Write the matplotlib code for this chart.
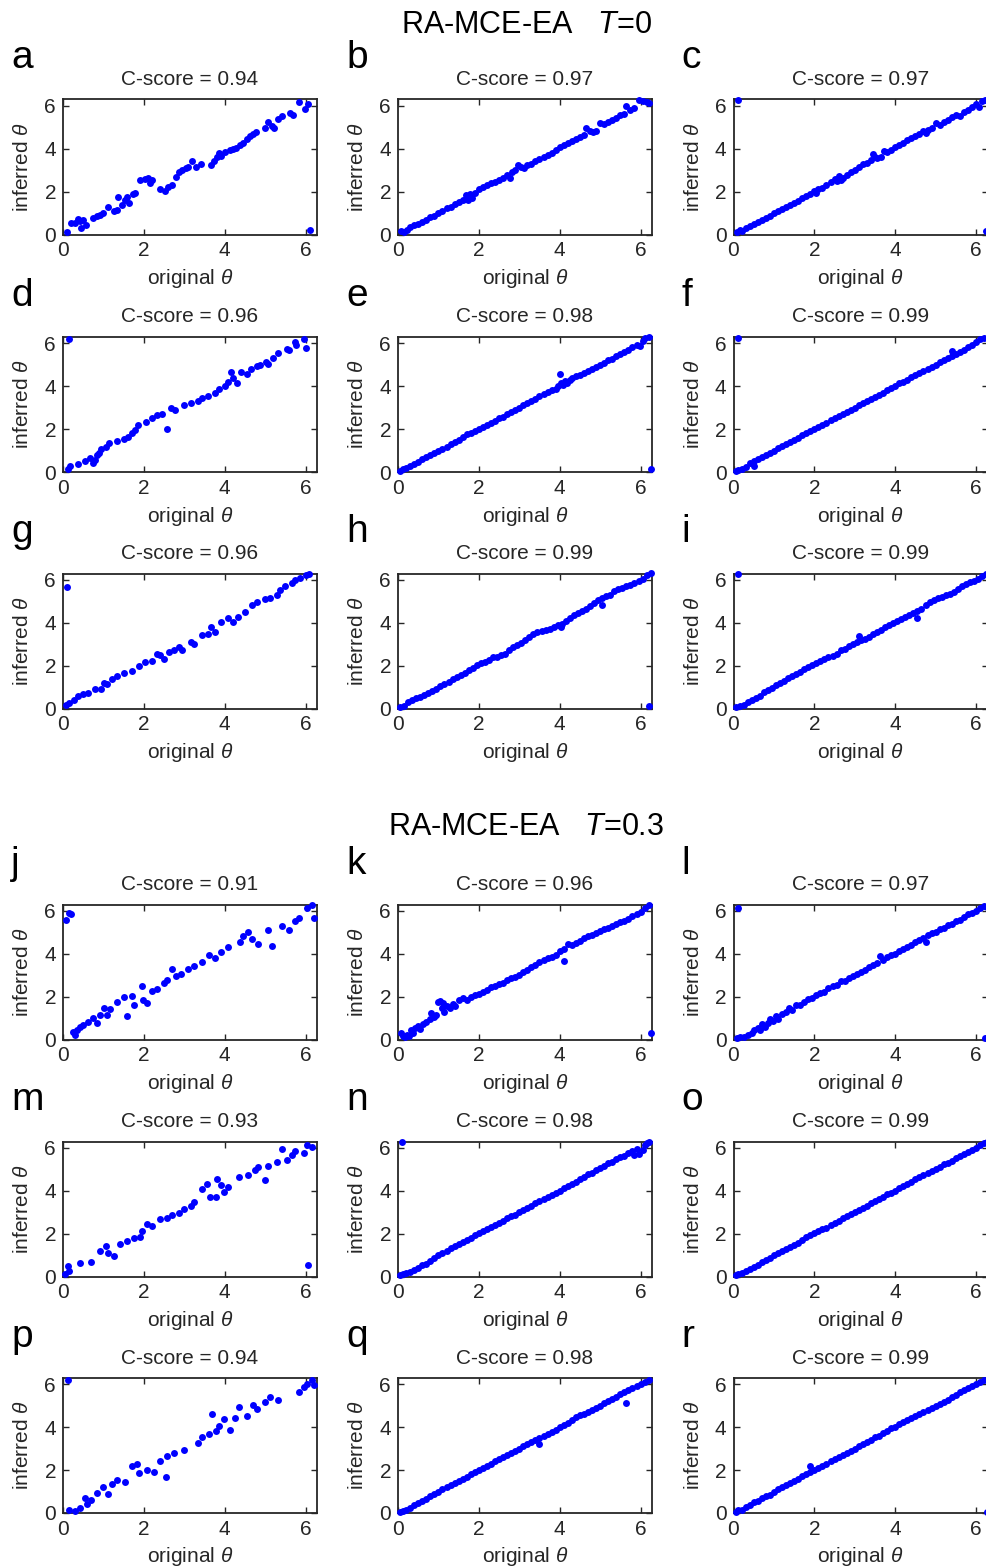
import numpy as np
import matplotlib
matplotlib.use("Agg")
import matplotlib.pyplot as plt

plt.rcParams['font.family'] = ['Liberation Sans', 'DejaVu Sans']
plt.rcParams['mathtext.fontset'] = 'custom'
plt.rcParams['mathtext.rm'] = 'Liberation Sans'
plt.rcParams['mathtext.it'] = 'Liberation Sans:italic'

# ---- data: (original theta, inferred theta) ----
pts_a = [(0.1, 0.11), (0.2, 0.53), (0.29, 0.53), (0.37, 0.74), (0.41, 0.63), (0.45, 0.31), (0.5, 0.66),
         (0.58, 0.42), (0.73, 0.79), (0.83, 0.85), (0.91, 0.93), (1.0, 1.0), (1.12, 1.26), (1.25, 1.1),
         (1.33, 1.13), (1.37, 1.76), (1.45, 1.37), (1.54, 1.6), (1.58, 1.73), (1.64, 1.48), (1.73, 1.87),
         (1.79, 1.95), (1.91, 2.52), (2.04, 2.58), (2.1, 2.63), (2.16, 2.42), (2.2, 2.52), (2.41, 2.1),
         (2.52, 2.03), (2.6, 2.19), (2.7, 2.31), (2.79, 2.67), (2.87, 2.92), (2.95, 3.02), (3.04, 3.08),
         (3.1, 3.14), (3.2, 3.4), (3.29, 3.14), (3.41, 3.3), (3.65, 3.25), (3.74, 3.44), (3.8, 3.6),
         (3.85, 3.77), (3.91, 3.65), (4.0, 3.84), (4.12, 3.93), (4.2, 3.96), (4.29, 4.04), (4.37, 4.15),
         (4.45, 4.28), (4.54, 4.43), (4.62, 4.59), (4.7, 4.67), (4.78, 4.78), (4.99, 4.94), (5.08, 5.22),
         (5.16, 5.06), (5.23, 4.94), (5.33, 5.38), (5.41, 5.53), (5.62, 5.66), (5.7, 5.57), (5.83, 6.19),
         (5.99, 5.82), (6.06, 6.08), (6.1, 0.22)]

pts_b = [(0.08, 0.15), (0.15, 0.1), (0.22, 0.22), (0.3, 0.35), (0.4, 0.42), (0.5, 0.5), (0.6, 0.6),
         (0.7, 0.68), (0.8, 0.8), (0.9, 0.88), (1.0, 1.02), (1.1, 1.1), (1.2, 1.22), (1.3, 1.3), (1.4, 1.42),
         (1.5, 1.5), (1.6, 1.6), (1.68, 1.82), (1.72, 1.62), (1.78, 1.9), (1.82, 1.7), (1.9, 1.95),
         (2.0, 2.1), (2.1, 2.22), (2.2, 2.3), (2.3, 2.38), (2.4, 2.45), (2.5, 2.55), (2.6, 2.65),
         (2.7, 2.78), (2.78, 2.62), (2.82, 2.9), (2.9, 3.0), (2.98, 3.22), (3.05, 3.15), (3.12, 3.08),
         (3.2, 3.22), (3.3, 3.3), (3.4, 3.4), (3.5, 3.5), (3.6, 3.6), (3.7, 3.68), (3.8, 3.8), (3.9, 3.92),
         (4.0, 4.08), (4.1, 4.18), (4.2, 4.25), (4.3, 4.35), (4.4, 4.45), (4.5, 4.55), (4.6, 4.65),
         (4.66, 4.98), (4.75, 4.82), (4.82, 4.75), (4.9, 4.8), (5.0, 5.2), (5.1, 5.15), (5.2, 5.25),
         (5.3, 5.32), (5.4, 5.42), (5.5, 5.55), (5.58, 5.62), (5.65, 6.0), (5.75, 5.78), (5.85, 5.88),
         (5.95, 6.25), (6.05, 6.22), (6.15, 6.15), (6.22, 6.1)]

pts_c = [(0.1, 6.25), (6.25, 0.15), (0.08, 0.1), (0.15, 0.2), (0.2, 0.15), (0.3, 0.28), (0.4, 0.38),
         (0.5, 0.48), (0.6, 0.58), (0.7, 0.68), (0.8, 0.78), (0.9, 0.88), (1.0, 0.98), (1.1, 1.08),
         (1.2, 1.18), (1.3, 1.28), (1.4, 1.38), (1.5, 1.48), (1.6, 1.58), (1.7, 1.68), (1.8, 1.8),
         (1.9, 1.9), (2.0, 2.02), (2.05, 1.95), (2.1, 2.1), (2.2, 2.18), (2.3, 2.3), (2.4, 2.45),
         (2.5, 2.6), (2.55, 2.5), (2.6, 2.7), (2.65, 2.55), (2.7, 2.65), (2.8, 2.78), (2.9, 2.9),
         (3.0, 3.02), (3.1, 3.15), (3.2, 3.28), (3.3, 3.35), (3.4, 3.45), (3.45, 3.75), (3.5, 3.62),
         (3.55, 3.58), (3.65, 3.6), (3.72, 3.9), (3.8, 3.85), (3.9, 3.95), (4.0, 4.05), (4.1, 4.15),
         (4.2, 4.25), (4.3, 4.38), (4.4, 4.48), (4.5, 4.58), (4.6, 4.7), (4.68, 4.82), (4.75, 4.72),
         (4.8, 4.85), (4.9, 4.95), (5.0, 5.18), (5.1, 5.1), (5.2, 5.22), (5.3, 5.32), (5.4, 5.45),
         (5.5, 5.55), (5.6, 5.52), (5.7, 5.7), (5.8, 5.8), (5.9, 5.95), (6.0, 6.08), (6.08, 5.95),
         (6.15, 6.2), (6.22, 6.28)]

pts_d = [(0.15, 6.18), (0.12, 0.16), (0.18, 0.27), (0.37, 0.36), (0.54, 0.5), (0.68, 0.63), (0.75, 0.42),
         (0.79, 0.55), (0.83, 0.79), (0.9, 0.9), (0.94, 1.05), (1.06, 1.18), (1.15, 1.34), (1.33, 1.46),
         (1.51, 1.54), (1.62, 1.65), (1.7, 1.81), (1.79, 1.97), (1.85, 2.2), (2.06, 2.33), (2.2, 2.52),
         (2.33, 2.63), (2.45, 2.72), (2.58, 2.0), (2.66, 2.99), (2.76, 2.88), (2.99, 3.1), (3.16, 3.22),
         (3.33, 3.3), (3.45, 3.46), (3.58, 3.54), (3.75, 3.69), (3.87, 3.85), (4.0, 4.01), (4.08, 4.17),
         (4.15, 4.67), (4.2, 4.36), (4.31, 4.14), (4.41, 4.64), (4.54, 4.56), (4.66, 4.8), (4.79, 4.92),
         (4.87, 4.98), (5.01, 5.14), (5.08, 5.03), (5.2, 5.3), (5.33, 5.55), (5.54, 5.71), (5.6, 5.66),
         (5.73, 6.05), (5.76, 5.93), (5.95, 6.18), (6.01, 5.77)]

pts_e = [(4.0, 4.58), (6.25, 0.12), (0.05, 0.05), (0.12, 0.12), (0.2, 0.18), (0.3, 0.28), (0.4, 0.38),
         (0.5, 0.48), (0.6, 0.6), (0.7, 0.68), (0.8, 0.78), (0.9, 0.9), (1.0, 1.0), (1.1, 1.08),
         (1.2, 1.18), (1.3, 1.3), (1.4, 1.4), (1.5, 1.5), (1.6, 1.62), (1.7, 1.75), (1.8, 1.82),
         (1.9, 1.9), (2.0, 2.0), (2.1, 2.1), (2.2, 2.2), (2.3, 2.3), (2.4, 2.38), (2.5, 2.5), (2.6, 2.58),
         (2.7, 2.68), (2.8, 2.8), (2.9, 2.9), (3.0, 3.0), (3.1, 3.1), (3.2, 3.2), (3.3, 3.32), (3.4, 3.42),
         (3.5, 3.55), (3.6, 3.62), (3.7, 3.72), (3.8, 3.8), (3.9, 3.88), (3.95, 4.02), (4.02, 4.15),
         (4.08, 4.05), (4.12, 4.25), (4.18, 4.12), (4.25, 4.3), (4.3, 4.38), (4.4, 4.45), (4.5, 4.52),
         (4.6, 4.6), (4.7, 4.7), (4.8, 4.8), (4.9, 4.9), (5.0, 5.0), (5.1, 5.08), (5.2, 5.2), (5.3, 5.28),
         (5.4, 5.4), (5.5, 5.5), (5.6, 5.6), (5.7, 5.7), (5.8, 5.8), (5.9, 5.9), (5.98, 5.88),
         (6.05, 6.12), (6.12, 6.22), (6.2, 6.28)]

pts_f = [(0.1, 6.25), (0.05, 0.05), (0.12, 0.1), (0.2, 0.15), (0.3, 0.25), (0.4, 0.4), (0.5, 0.28),
         (0.5, 0.5), (0.6, 0.6), (0.7, 0.72), (0.8, 0.8), (0.9, 0.9), (1.0, 0.98), (1.1, 1.1), (1.2, 1.2),
         (1.3, 1.3), (1.4, 1.38), (1.5, 1.5), (1.6, 1.6), (1.7, 1.7), (1.8, 1.8), (1.9, 1.9), (2.0, 2.02),
         (2.1, 2.1), (2.2, 2.2), (2.3, 2.3), (2.4, 2.4), (2.5, 2.5), (2.6, 2.6), (2.7, 2.7), (2.8, 2.8),
         (2.9, 2.9), (3.0, 3.0), (3.1, 3.1), (3.2, 3.2), (3.3, 3.3), (3.4, 3.4), (3.5, 3.5), (3.6, 3.6),
         (3.7, 3.7), (3.8, 3.8), (3.9, 3.9), (4.0, 4.0), (4.1, 4.12), (4.2, 4.2), (4.3, 4.3), (4.4, 4.4),
         (4.5, 4.5), (4.6, 4.6), (4.7, 4.7), (4.8, 4.8), (4.9, 4.9), (5.0, 5.0), (5.1, 5.1), (5.2, 5.2),
         (5.3, 5.3), (5.4, 5.62), (5.4, 5.4), (5.5, 5.5), (5.6, 5.6), (5.7, 5.7), (5.8, 5.8), (5.9, 5.92),
         (6.0, 6.05), (6.1, 6.2), (6.2, 6.25)]

pts_g = [(0.1, 5.64), (0.08, 0.14), (0.16, 0.27), (0.26, 0.38), (0.37, 0.58), (0.5, 0.66), (0.62, 0.74),
         (0.79, 0.9), (0.95, 0.9), (1.01, 1.21), (1.1, 1.13), (1.2, 1.37), (1.33, 1.53), (1.5, 1.65),
         (1.7, 1.76), (1.87, 1.97), (2.04, 2.15), (2.2, 2.23), (2.33, 2.55), (2.41, 2.47), (2.5, 2.31),
         (2.62, 2.63), (2.74, 2.74), (2.87, 2.86), (2.95, 2.7), (3.16, 3.1), (3.25, 3.02), (3.45, 3.41),
         (3.58, 3.49), (3.66, 3.8), (3.75, 3.57), (3.91, 4.01), (4.08, 4.2), (4.2, 4.01), (4.33, 4.28),
         (4.5, 4.48), (4.68, 4.8), (4.81, 4.95), (5.0, 5.09), (5.12, 5.14), (5.29, 5.3), (5.37, 5.53),
         (5.5, 5.69), (5.66, 5.85), (5.75, 6.0), (5.87, 6.08), (6.0, 6.21), (6.08, 6.24)]

pts_h = [(6.2, 0.1), (5.05, 4.8), (0.05, 0.05), (0.15, 0.12), (0.25, 0.28), (0.35, 0.4), (0.45, 0.5),
         (0.55, 0.55), (0.65, 0.62), (0.75, 0.72), (0.85, 0.8), (0.95, 0.9), (1.05, 1.05), (1.15, 1.12),
         (1.25, 1.25), (1.35, 1.35), (1.45, 1.45), (1.55, 1.55), (1.65, 1.65), (1.75, 1.78), (1.85, 1.88),
         (1.95, 2.02), (2.05, 2.1), (2.15, 2.15), (2.25, 2.28), (2.35, 2.38), (2.45, 2.42), (2.55, 2.5),
         (2.65, 2.55), (2.75, 2.7), (2.85, 2.85), (2.95, 2.95), (3.05, 3.05), (3.15, 3.2), (3.25, 3.35),
         (3.35, 3.45), (3.45, 3.55), (3.55, 3.62), (3.65, 3.65), (3.75, 3.7), (3.85, 3.78), (3.95, 3.88),
         (4.02, 3.78), (4.05, 3.95), (4.15, 4.08), (4.25, 4.22), (4.35, 4.35), (4.45, 4.45), (4.55, 4.52),
         (4.65, 4.62), (4.75, 4.78), (4.85, 4.92), (4.95, 5.05), (5.05, 5.12), (5.15, 5.22), (5.25, 5.3),
         (5.35, 5.45), (5.45, 5.55), (5.55, 5.62), (5.65, 5.7), (5.75, 5.75), (5.85, 5.82), (5.95, 5.92),
         (6.05, 6.05), (6.15, 6.2), (6.25, 6.3)]

pts_i = [(0.1, 6.25), (4.55, 4.22), (3.1, 3.38), (0.05, 0.05), (0.15, 0.1), (0.25, 0.18), (0.35, 0.28),
         (0.45, 0.38), (0.55, 0.48), (0.65, 0.6), (0.75, 0.75), (0.85, 0.85), (0.95, 0.95), (1.05, 1.08),
         (1.15, 1.2), (1.25, 1.3), (1.35, 1.42), (1.45, 1.5), (1.55, 1.6), (1.65, 1.68), (1.75, 1.82),
         (1.85, 1.92), (1.95, 2.02), (2.05, 2.12), (2.15, 2.2), (2.25, 2.3), (2.35, 2.38), (2.45, 2.45),
         (2.55, 2.55), (2.65, 2.72), (2.75, 2.78), (2.85, 2.9), (2.95, 3.0), (3.05, 3.08), (3.15, 3.18),
         (3.25, 3.25), (3.35, 3.35), (3.45, 3.45), (3.55, 3.55), (3.65, 3.65), (3.75, 3.78), (3.85, 3.88),
         (3.95, 3.98), (4.05, 4.05), (4.15, 4.15), (4.25, 4.25), (4.35, 4.35), (4.45, 4.45), (4.55, 4.52),
         (4.65, 4.65), (4.75, 4.82), (4.85, 4.95), (4.95, 5.05), (5.05, 5.12), (5.15, 5.2), (5.25, 5.28),
         (5.35, 5.35), (5.45, 5.42), (5.55, 5.55), (5.65, 5.68), (5.75, 5.78), (5.85, 5.88), (5.95, 5.95),
         (6.05, 6.05), (6.15, 6.15), (6.25, 6.28)]

pts_j = [(0.08, 5.55), (0.16, 5.91), (0.2, 5.82), (0.25, 0.36), (0.29, 0.2), (0.35, 0.44), (0.41, 0.6),
         (0.5, 0.68), (0.62, 0.83), (0.73, 0.99), (0.85, 0.79), (0.91, 1.15), (1.01, 1.46), (1.08, 1.15),
         (1.16, 1.42), (1.33, 1.73), (1.5, 1.98), (1.58, 1.1), (1.7, 2.04), (1.75, 1.62), (1.95, 2.48),
         (1.99, 1.86), (2.08, 1.7), (2.2, 2.25), (2.33, 2.36), (2.5, 2.64), (2.58, 2.75), (2.7, 3.27),
         (2.79, 2.96), (2.91, 3.03), (3.08, 3.27), (3.25, 3.4), (3.45, 3.62), (3.62, 3.93), (3.75, 3.77),
         (3.91, 4.06), (4.08, 4.29), (4.37, 4.53), (4.46, 4.84), (4.58, 5.0), (4.68, 4.69), (4.83, 4.45),
         (5.06, 5.08), (5.18, 4.37), (5.41, 5.28), (5.58, 5.08), (5.75, 5.5), (5.83, 5.66), (6.04, 6.1),
         (6.16, 6.26), (6.2, 5.66)]

pts_k = [(6.25, 0.3), (4.1, 3.65), (0.08, 0.3), (0.12, 0.15), (0.18, 0.1), (0.22, 0.22), (0.28, 0.15),
         (0.32, 0.45), (0.38, 0.3), (0.42, 0.55), (0.5, 0.65), (0.55, 0.5), (0.62, 0.7), (0.7, 0.82),
         (0.78, 0.95), (0.82, 1.25), (0.88, 1.05), (0.95, 1.15), (1.0, 1.75), (1.05, 1.8), (1.08, 1.45),
         (1.12, 1.7), (1.15, 1.3), (1.2, 1.55), (1.28, 1.45), (1.35, 1.65), (1.42, 1.55), (1.5, 1.85),
         (1.6, 1.95), (1.7, 1.85), (1.8, 2.0), (1.9, 2.05), (2.0, 2.12), (2.1, 2.2), (2.2, 2.3),
         (2.3, 2.45), (2.4, 2.5), (2.5, 2.6), (2.6, 2.65), (2.7, 2.75), (2.8, 2.85), (2.9, 2.92),
         (3.0, 3.02), (3.1, 3.15), (3.2, 3.25), (3.3, 3.38), (3.4, 3.45), (3.5, 3.62), (3.6, 3.72),
         (3.7, 3.78), (3.8, 3.85), (3.9, 3.95), (4.0, 4.1), (4.1, 4.2), (4.2, 4.45), (4.3, 4.42),
         (4.4, 4.48), (4.5, 4.6), (4.6, 4.72), (4.7, 4.8), (4.8, 4.88), (4.9, 4.95), (5.0, 5.05),
         (5.1, 5.12), (5.2, 5.2), (5.3, 5.28), (5.4, 5.38), (5.5, 5.45), (5.6, 5.52), (5.7, 5.62),
         (5.8, 5.75), (5.9, 5.82), (6.0, 5.95), (6.1, 6.1), (6.2, 6.25)]

pts_l = [(0.1, 6.1), (6.22, 0.05), (0.08, 0.05), (0.15, 0.1), (0.25, 0.12), (0.35, 0.22), (0.45, 0.3),
         (0.5, 0.45), (0.6, 0.55), (0.65, 0.42), (0.7, 0.72), (0.78, 0.6), (0.85, 0.78), (0.9, 0.95),
         (0.98, 0.85), (1.05, 1.08), (1.1, 0.95), (1.2, 1.2), (1.3, 1.3), (1.38, 1.45), (1.45, 1.38),
         (1.55, 1.6), (1.65, 1.62), (1.75, 1.75), (1.85, 1.88), (1.95, 1.95), (2.05, 2.05), (2.15, 2.15),
         (2.25, 2.2), (2.35, 2.38), (2.45, 2.5), (2.55, 2.55), (2.65, 2.7), (2.75, 2.72), (2.85, 2.88),
         (2.95, 2.95), (3.05, 3.05), (3.15, 3.15), (3.25, 3.22), (3.35, 3.38), (3.45, 3.45), (3.55, 3.58),
         (3.62, 3.88), (3.7, 3.7), (3.8, 3.82), (3.9, 3.92), (4.0, 4.0), (4.1, 4.1), (4.2, 4.2),
         (4.3, 4.32), (4.4, 4.4), (4.5, 4.55), (4.6, 4.62), (4.7, 4.72), (4.75, 4.55), (4.8, 4.85),
         (4.9, 4.95), (5.0, 5.02), (5.1, 5.12), (5.2, 5.2), (5.3, 5.32), (5.4, 5.38), (5.5, 5.5),
         (5.6, 5.58), (5.7, 5.68), (5.8, 5.82), (5.9, 5.88), (6.0, 6.0), (6.1, 6.1), (6.2, 6.2), (6.28, 6.15)]

pts_m = [(0.04, 0.11), (0.12, 0.47), (0.16, 0.24), (0.41, 0.63), (0.7, 0.68), (0.91, 1.21), (1.06, 1.42),
         (1.12, 1.1), (1.25, 0.94), (1.41, 1.53), (1.58, 1.65), (1.75, 1.81), (1.91, 1.84), (1.95, 2.12),
         (2.08, 2.44), (2.2, 2.36), (2.41, 2.67), (2.58, 2.72), (2.7, 2.88), (2.87, 2.94), (2.99, 3.14),
         (3.16, 3.3), (3.25, 3.46), (3.45, 4.09), (3.56, 4.32), (3.64, 3.69), (3.79, 3.69), (3.81, 4.56),
         (3.91, 4.25), (3.99, 3.93), (4.08, 4.17), (4.35, 4.64), (4.58, 4.72), (4.75, 4.95), (4.83, 5.08),
         (5.0, 4.51), (5.08, 5.14), (5.29, 5.35), (5.41, 5.93), (5.54, 5.42), (5.66, 5.66), (5.75, 5.82),
         (5.95, 5.74), (6.04, 6.13), (6.16, 6.02), (6.06, 0.52)]

pts_n = [(0.1, 6.25), (0.05, 0.05), (0.12, 0.1), (0.2, 0.15), (0.3, 0.2), (0.4, 0.28), (0.5, 0.38),
         (0.6, 0.52), (0.7, 0.58), (0.8, 0.72), (0.9, 0.85), (1.0, 0.98), (1.1, 1.08), (1.2, 1.2),
         (1.3, 1.32), (1.4, 1.42), (1.5, 1.52), (1.6, 1.62), (1.7, 1.7), (1.8, 1.8), (1.9, 1.92),
         (2.0, 2.02), (2.1, 2.1), (2.2, 2.2), (2.3, 2.3), (2.4, 2.4), (2.5, 2.5), (2.6, 2.6), (2.7, 2.7),
         (2.8, 2.8), (2.9, 2.88), (3.0, 2.98), (3.1, 3.08), (3.2, 3.2), (3.3, 3.3), (3.4, 3.42),
         (3.5, 3.5), (3.6, 3.6), (3.7, 3.72), (3.8, 3.8), (3.9, 3.9), (4.0, 4.0), (4.1, 4.12), (4.2, 4.22),
         (4.3, 4.32), (4.4, 4.42), (4.5, 4.52), (4.6, 4.62), (4.7, 4.75), (4.8, 4.82), (4.9, 4.95),
         (5.0, 5.05), (5.1, 5.15), (5.2, 5.28), (5.3, 5.35), (5.4, 5.45), (5.5, 5.55), (5.6, 5.62),
         (5.7, 5.75), (5.8, 5.85), (5.85, 5.65), (5.9, 5.95), (5.95, 5.72), (6.05, 5.9), (6.1, 6.1),
         (6.15, 6.2), (6.22, 6.25)]

pts_o = [(0.05, 0.05), (0.12, 0.12), (0.2, 0.18), (0.3, 0.25), (0.4, 0.35), (0.5, 0.45), (0.6, 0.55),
         (0.7, 0.68), (0.8, 0.78), (0.9, 0.88), (1.0, 0.98), (1.1, 1.1), (1.2, 1.2), (1.3, 1.3),
         (1.4, 1.38), (1.5, 1.48), (1.6, 1.58), (1.7, 1.72), (1.8, 1.85), (1.9, 1.95), (2.0, 2.02),
         (2.1, 2.1), (2.2, 2.2), (2.3, 2.28), (2.4, 2.4), (2.5, 2.48), (2.6, 2.6), (2.7, 2.7), (2.8, 2.8),
         (2.9, 2.9), (3.0, 3.02), (3.1, 3.1), (3.2, 3.2), (3.3, 3.3), (3.4, 3.4), (3.5, 3.5), (3.6, 3.6),
         (3.7, 3.72), (3.8, 3.82), (3.9, 3.9), (4.0, 4.0), (4.1, 4.12), (4.2, 4.22), (4.3, 4.3),
         (4.4, 4.42), (4.5, 4.52), (4.6, 4.62), (4.7, 4.72), (4.8, 4.8), (4.9, 4.9), (5.0, 5.0),
         (5.1, 5.1), (5.2, 5.22), (5.3, 5.3), (5.4, 5.38), (5.5, 5.5), (5.6, 5.6), (5.7, 5.7), (5.8, 5.8),
         (5.9, 5.9), (6.0, 6.0), (6.1, 6.1), (6.2, 6.2), (6.28, 6.28)]

pts_p = [(0.12, 6.18), (0.16, 0.16), (0.29, 0.09), (0.41, 0.25), (0.54, 0.72), (0.6, 0.41), (0.7, 0.6),
         (0.83, 0.91), (1.0, 1.23), (1.12, 0.88), (1.2, 1.35), (1.33, 1.54), (1.54, 1.42), (1.7, 2.17),
         (1.83, 2.3), (1.87, 1.86), (2.08, 1.98), (2.24, 1.93), (2.41, 2.41), (2.58, 2.64), (2.56, 1.67),
         (2.74, 2.77), (2.99, 2.92), (3.33, 3.24), (3.45, 3.55), (3.62, 3.66), (3.68, 4.61), (3.79, 3.82),
         (3.87, 4.06), (3.99, 4.37), (4.12, 3.87), (4.25, 4.4), (4.35, 4.92), (4.54, 4.53), (4.7, 5.03),
         (4.81, 4.84), (5.0, 5.16), (5.12, 5.39), (5.33, 5.28), (5.85, 5.63), (5.95, 5.86), (6.04, 6.02),
         (6.16, 6.18), (6.2, 5.97)]

pts_q = [(3.5, 3.2), (5.65, 5.1), (0.05, 0.05), (0.12, 0.1), (0.2, 0.15), (0.3, 0.25), (0.4, 0.38),
         (0.5, 0.45), (0.6, 0.55), (0.7, 0.65), (0.8, 0.78), (0.9, 0.9), (1.0, 0.98), (1.1, 1.1),
         (1.2, 1.2), (1.3, 1.28), (1.4, 1.4), (1.5, 1.5), (1.6, 1.6), (1.7, 1.68), (1.8, 1.8), (1.9, 1.9),
         (2.0, 2.0), (2.1, 2.1), (2.2, 2.2), (2.3, 2.3), (2.4, 2.4), (2.5, 2.5), (2.6, 2.6), (2.7, 2.7),
         (2.8, 2.8), (2.9, 2.88), (3.0, 3.0), (3.1, 3.1), (3.2, 3.2), (3.3, 3.3), (3.4, 3.38), (3.5, 3.5),
         (3.6, 3.58), (3.7, 3.7), (3.8, 3.78), (3.9, 3.88), (4.0, 4.0), (4.1, 4.1), (4.2, 4.2),
         (4.3, 4.32), (4.4, 4.45), (4.5, 4.55), (4.6, 4.62), (4.7, 4.68), (4.8, 4.8), (4.9, 4.9),
         (5.0, 5.0), (5.1, 5.1), (5.2, 5.2), (5.3, 5.3), (5.4, 5.42), (5.5, 5.52), (5.6, 5.62),
         (5.7, 5.72), (5.8, 5.8), (5.9, 5.9), (6.0, 6.0), (6.1, 6.08), (6.2, 6.2)]

pts_r = [(6.28, 0.05), (1.9, 2.2), (0.05, 0.05), (0.12, 0.12), (0.2, 0.15), (0.3, 0.28), (0.4, 0.38),
         (0.5, 0.5), (0.6, 0.55), (0.7, 0.68), (0.8, 0.78), (0.9, 0.85), (1.0, 0.98), (1.1, 1.1),
         (1.2, 1.2), (1.3, 1.3), (1.4, 1.38), (1.5, 1.5), (1.6, 1.6), (1.7, 1.7), (1.8, 1.8), (1.9, 1.92),
         (2.0, 2.0), (2.1, 2.1), (2.2, 2.2), (2.3, 2.3), (2.4, 2.42), (2.5, 2.5), (2.6, 2.6), (2.7, 2.72),
         (2.8, 2.8), (2.9, 2.9), (3.0, 2.98), (3.1, 3.1), (3.2, 3.2), (3.3, 3.3), (3.4, 3.42), (3.5, 3.52),
         (3.6, 3.6), (3.7, 3.72), (3.8, 3.82), (3.9, 3.95), (4.0, 4.02), (4.1, 4.12), (4.2, 4.22),
         (4.3, 4.32), (4.4, 4.42), (4.5, 4.5), (4.6, 4.6), (4.7, 4.72), (4.8, 4.8), (4.9, 4.88),
         (5.0, 4.98), (5.1, 5.05), (5.2, 5.15), (5.3, 5.25), (5.4, 5.38), (5.5, 5.5), (5.6, 5.62),
         (5.7, 5.72), (5.8, 5.82), (5.9, 5.9), (6.0, 6.0), (6.1, 6.08), (6.2, 6.18)]

letters = list("abcdefghijklmnopqr")
cscores = [0.94, 0.97, 0.97, 0.96, 0.98, 0.99, 0.96, 0.99, 0.99,
           0.91, 0.96, 0.97, 0.93, 0.98, 0.99, 0.94, 0.98, 0.99]
group_titles = ['RA-MCE-EA   $T$=0', 'RA-MCE-EA   $T$=0.3']
ticks = [0, 2, 4, 6]

all_pts = [pts_a, pts_b, pts_c, pts_d, pts_e, pts_f, pts_g, pts_h, pts_i,
           pts_j, pts_k, pts_l, pts_m, pts_n, pts_o, pts_p, pts_q, pts_r]

# ---- layout in pixels ----
W, H = 987, 1566
fig = plt.figure(figsize=(W / 100, H / 100), dpi=100)
col_left = [63, 398, 733.5]
row_top = [99.5, 337, 573.5, 904.5, 1141.5, 1378]
ax_w, ax_h = 254, 135
gray = '#262626'


def fx(x):
    return x / W


def fy(y):
    return 1 - y / H


for k, pts in enumerate(all_pts):
    r, c = divmod(k, 3)
    left, top = col_left[c], row_top[r]
    ax = fig.add_axes([fx(left), fy(top + ax_h), ax_w / W, ax_h / H])
    x, y = zip(*pts)
    ax.scatter(x, y, s=25, color='#0000ff', linewidths=0, clip_on=False, zorder=3)
    ax.set_xlim(0, 2 * np.pi)
    ax.set_ylim(0, 2 * np.pi)
    ax.set_xticks(ticks)
    ax.set_yticks(ticks)
    ax.tick_params(direction='in', top=True, right=True, length=4, width=1.0,
                   color=gray, labelcolor=gray, labelsize=15, pad=5)
    for sp in ax.spines.values():
        sp.set_color(gray)
        sp.set_linewidth(1.3)

    cx = left + ax_w / 2
    fig.text(fx(cx), fy(top - 14.5), 'C-score = %.2f' % cscores[k], ha='center', va='baseline',
             fontsize=15, color=gray)
    fig.text(fx(cx), fy(top + ax_h + 44), r'original $\theta$', ha='center', va='center',
             fontsize=15, color=gray)
    fig.text(fx(left - 40), fy(top + ax_h / 2), r'inferred $\theta$', ha='center', va='center',
             rotation=90, fontsize=15, color=gray)
    fig.text(fx(left - 52), fy(top - 31), letters[k], ha='left', va='baseline',
             fontsize=28, color='black')

fig.text(fx(526), fy(33), group_titles[0], ha='center', va='baseline', fontsize=22, color='black')
fig.text(fx(526), fy(835), group_titles[1], ha='center', va='baseline', fontsize=22, color='black')

fig.savefig('out.png', dpi=100)
